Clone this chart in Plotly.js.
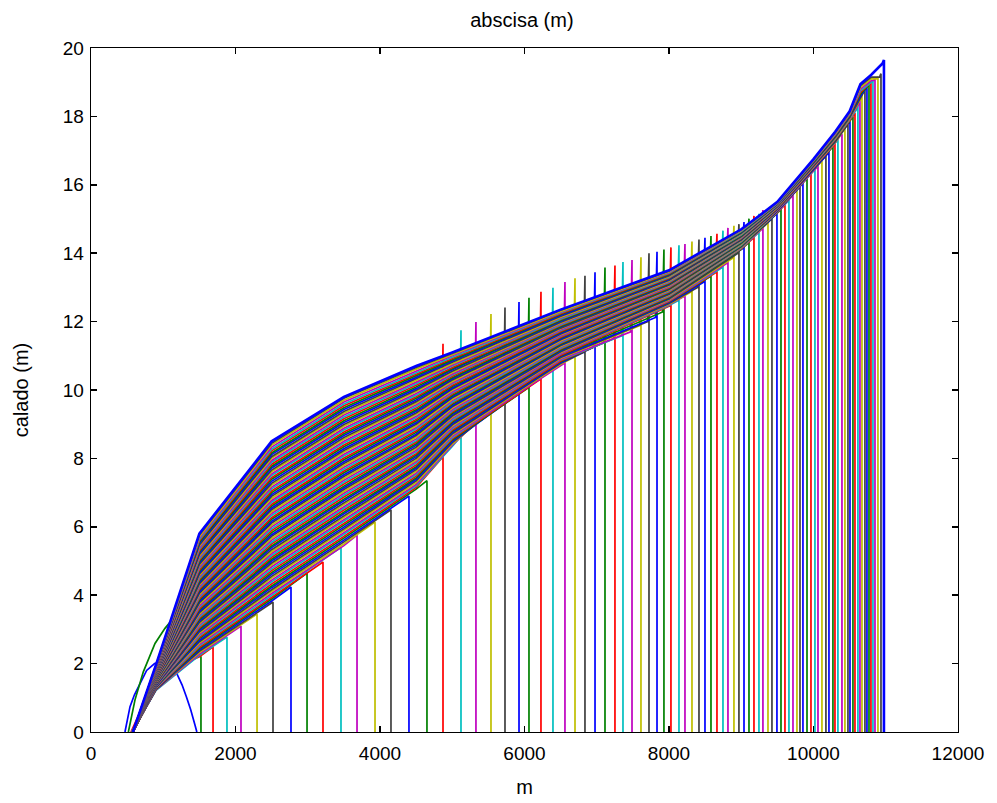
<!DOCTYPE html>
<html><head><meta charset="utf-8">
<script src="https://cdn.plot.ly/plotly-3.0.1.min.js"></script>
<style>html,body{margin:0;padding:0;background:#fff}#chart{width:997px;height:803px}</style>
</head><body><div id="chart"></div>
<script>
// first (small) profile, drawn in blue
const blobX = [470,540,600,680,770,880,930,1000,1100,1190,1260,1320,1380,1440,1465];
const blobY = [0,0.74,1.08,1.43,1.80,2.00,2.03,2.00,1.90,1.70,1.38,1.03,0.65,0.20,0];
// upstream part of the second (green) profile
const humpX = [517,609,724,886,1024,1117,1300];
const humpY = [0,0.94,1.76,2.59,3.03,3.27,2.95];
// upstream start of each profile (later ones start at 580 m)
const startX = [517,553,560,564,567,570,573,575,577,579];
// front position (m) of every profile
const fronts = [1522,1689,1882,2076,2298,2519,2768,2990,3211,3460,
3682,3931,4152,4401,4650,4872,5121,5328,5536,5730,
5924,6062,6228,6394,6560,6699,6837,6976,7114,7252,
7363,7488,7612,7723,7834,7930,8027,8138,8221,8318,
8415,8498,8581,8664,8747,8816,8899,8968,9038,9107,
9176,9245,9300,9370,9425,9494,9550,9605,9660,9716,
9771,9813,9854,9910,9965,10020,10062,10117,10172,10214,
10269,10297,10338,10394,10435,10477,10505,10546,10574,10615,
10643,10671,10712,10740,10768,10795,10823,10851,10892,10934,10975];
// depth at the front (top of the vertical drop)
const tips = [2.19,2.49,2.78,3.10,3.45,3.80,4.24,4.65,4.97,5.40,
5.76,6.14,6.50,6.90,7.35,11.35,11.75,11.99,12.22,12.41,
12.57,12.70,12.87,12.99,13.16,13.27,13.34,13.44,13.58,13.64,
13.74,13.80,13.88,14.00,14.04,14.11,14.17,14.23,14.27,14.34,
14.40,14.45,14.50,14.57,14.66,14.74,14.80,14.85,14.91,15.01,
15.09,15.15,15.26,15.32,15.38,15.48,15.58,15.68,15.78,15.88,
15.98,16.06,16.15,16.27,16.40,16.52,16.62,16.76,16.90,17.02,
17.15,17.22,17.33,17.48,17.60,17.75,17.85,18.00,18.10,18.35,
18.55,18.70,18.85,18.92,18.97,19.00,19.05,19.10,19.15,19.25,19.65];
// depth just before the front (last 76 profiles)
const prefront = [8.00,8.60,9.00,9.37,9.62,9.87,10.05,10.30,10.57,10.77,
10.95,11.10,11.25,11.38,11.50,11.58,11.70,11.88,12.00,12.12,
12.28,12.45,12.60,12.73,12.86,13.00,13.15,13.30,13.43,13.57,
13.70,13.85,13.99,14.14,14.28,14.42,14.57,14.69,14.85,14.97,
15.12,15.24,15.37,15.50,15.65,15.80,15.90,16.00,16.14,16.28,
16.40,16.50,16.65,16.80,16.90,17.07,17.15,17.27,17.45,17.58,
17.72,17.80,17.95,18.05,18.20,18.35,18.50,18.70,18.80,18.88,
18.95,19.00,19.05,19.10,19.15,19.55];
// depth at stations, for the profiles that already passed them (last ones)
const depth900 = [1.62,1.22,1.23,1.24,1.25,1.25,1.26,1.27,1.28,1.29,
1.30,1.31,1.31,1.32,1.33,1.34,1.35,1.36,1.36,1.37,
1.38,1.39,1.40,1.41,1.42,1.42,1.43,1.44,1.45,1.46,
1.47,1.47,1.48,1.49,1.50,1.51,1.52,1.53,1.53,1.54,
1.55,1.56,1.57,1.58,1.58,1.59,1.60,1.61,1.62,1.63,
1.64,1.64,1.65,1.66,1.67,1.68,1.69,1.69,1.70,1.71,
1.72,1.73,1.74,1.75,1.75,1.76,1.77,1.78,1.79,1.80,
1.80,1.81,1.82,1.83,1.84,1.85,1.86,1.86,1.87,1.88,
1.89,1.90,1.91,1.91,1.92,1.93,1.94,1.95,1.96,1.97];
const depth1500 = [2.20,2.24,2.28,2.32,2.36,2.40,2.44,2.48,2.52,2.56,
2.60,2.64,2.68,2.73,2.77,2.81,2.85,2.89,2.93,2.97,
3.01,3.05,3.09,3.13,3.17,3.21,3.25,3.29,3.33,3.37,
3.41,3.45,3.49,3.53,3.57,3.61,3.65,3.69,3.74,3.78,
3.82,3.86,3.90,3.94,3.98,4.02,4.06,4.10,4.14,4.18,
4.22,4.26,4.30,4.34,4.38,4.42,4.46,4.50,4.54,4.58,
4.62,4.66,4.70,4.75,4.79,4.83,4.87,4.91,4.95,4.99,
5.03,5.07,5.11,5.15,5.19,5.23,5.27,5.31,5.35,5.39,
5.43,5.47,5.51,5.55,5.59,5.63,5.67,5.71,5.76,5.80];
const depth2500 = [3.83,3.89,3.94,4.00,4.05,
4.11,4.16,4.22,4.27,4.33,4.39,4.44,4.50,4.55,4.61,
4.66,4.72,4.77,4.83,4.89,4.94,5.00,5.05,5.11,5.16,
5.22,5.27,5.33,5.39,5.44,5.50,5.55,5.61,5.66,5.72,
5.77,5.83,5.89,5.94,6.00,6.05,6.11,6.16,6.22,6.27,
6.33,6.39,6.44,6.50,6.55,6.61,6.66,6.72,6.77,6.83,
6.89,6.94,7.00,7.05,7.11,7.16,7.22,7.27,7.33,7.39,
7.44,7.50,7.55,7.61,7.66,7.72,7.77,7.83,7.89,7.94,
8.00,8.05,8.11,8.16,8.22,8.27,8.33,8.39,8.44,8.50];
const depth3500 = [5.45,
5.50,5.56,5.61,5.67,5.72,5.78,5.83,5.89,5.94,5.99,
6.05,6.10,6.16,6.21,6.27,6.32,6.38,6.43,6.49,6.54,
6.59,6.65,6.70,6.76,6.81,6.87,6.92,6.98,7.03,7.09,
7.14,7.19,7.25,7.30,7.36,7.41,7.47,7.52,7.58,7.63,
7.68,7.74,7.79,7.85,7.90,7.96,8.01,8.07,8.12,8.18,
8.23,8.28,8.34,8.39,8.45,8.50,8.56,8.61,8.67,8.72,
8.77,8.83,8.88,8.94,8.99,9.05,9.10,9.16,9.21,9.27,
9.32,9.37,9.43,9.48,9.54,9.59,9.65,9.70,9.76,9.80];
const depth4500 = [7.10,
7.15,7.20,7.24,7.29,7.34,7.39,7.43,7.48,7.53,7.57,
7.62,7.67,7.72,7.76,7.81,7.86,7.91,7.95,8.00,8.05,
8.10,8.14,8.19,8.24,8.29,8.33,8.38,8.43,8.48,8.52,
8.57,8.62,8.67,8.71,8.76,8.81,8.86,8.90,8.95,9.00,
9.04,9.09,9.14,9.19,9.23,9.28,9.33,9.38,9.42,9.47,
9.52,9.57,9.61,9.66,9.71,9.76,9.80,9.85,9.90,9.95,
9.99,10.04,10.09,10.14,10.18,10.23,10.28,10.33,10.37,10.42,
10.47,10.51,10.56,10.61,10.66,10.70];
const depth5000 = [8.35,8.39,8.42,8.46,8.50,
8.54,8.57,8.61,8.65,8.69,8.72,8.76,8.80,8.83,8.87,
8.91,8.95,8.98,9.02,9.06,9.10,9.13,9.17,9.21,9.24,
9.28,9.32,9.36,9.39,9.43,9.47,9.51,9.54,9.58,9.62,
9.65,9.69,9.73,9.77,9.80,9.84,9.88,9.92,9.95,9.99,
10.03,10.06,10.10,10.14,10.18,10.21,10.25,10.29,10.33,10.36,
10.40,10.44,10.47,10.51,10.55,10.59,10.62,10.66,10.70,10.73,
10.77,10.81,10.85,10.88,10.92,10.96,11.00,11.03,11.07,11.10];
const depth6500 = [10.73,10.75,10.78,10.80,10.83,10.85,10.88,
10.90,10.93,10.95,10.98,11.00,11.02,11.05,11.07,11.10,11.12,
11.15,11.17,11.20,11.22,11.25,11.27,11.30,11.32,11.34,11.37,
11.39,11.42,11.44,11.47,11.49,11.52,11.54,11.57,11.59,11.62,
11.64,11.66,11.69,11.71,11.74,11.76,11.79,11.81,11.84,11.86,
11.89,11.91,11.94,11.96,11.98,12.01,12.03,12.06,12.08,12.11,
12.13,12.16,12.18,12.21,12.23,12.26,12.28,12.30,12.33,12.35];
const depth8000 = [12.45,12.47,12.49,12.51,12.53,
12.55,12.57,12.59,12.61,12.62,12.64,12.66,12.68,12.70,12.72,
12.74,12.76,12.78,12.80,12.82,12.84,12.86,12.88,12.90,12.92,
12.94,12.96,12.97,12.99,13.01,13.03,13.05,13.07,13.09,13.11,
13.13,13.15,13.17,13.19,13.21,13.23,13.25,13.27,13.29,13.31,
13.32,13.34,13.36,13.38,13.40,13.42,13.44,13.46,13.48,13.50];
const depth9000 = [14.10,14.11,14.13,
14.14,14.16,14.17,14.19,14.20,14.21,14.23,14.24,14.26,14.27,
14.29,14.30,14.31,14.33,14.34,14.36,14.37,14.39,14.40,14.41,
14.43,14.44,14.46,14.47,14.49,14.50,14.51,14.53,14.54,14.56,
14.57,14.59,14.60,14.61,14.63,14.64,14.66,14.67,14.69,14.70];
const depth9500 = [15.18,15.19,15.20,15.21,15.22,
15.23,15.24,15.25,15.26,15.27,15.27,15.28,15.29,15.30,15.31,
15.32,15.33,15.34,15.35,15.36,15.37,15.38,15.39,15.40,15.41,
15.42,15.43,15.44,15.45,15.46,15.46,15.47,15.48,15.49,15.50];
const depth10000 = [16.42,16.43,16.45,16.46,16.48,16.49,16.50,16.52,16.53,16.55,16.56,16.57,16.59,16.60,16.62,16.63,16.64,16.66,16.67,16.69,16.70,16.71,16.72,16.74,16.75];
const depth10300 = [17.20,17.22,17.24,17.26,17.28,17.30,17.32,17.34,17.36,17.37,17.39,17.41,17.43,17.45,17.47,17.49,17.51,17.53,17.55];
const depth10500 = [17.85,17.87,17.90,17.92,17.94,17.97,17.99,18.01,18.04,18.06,18.08,18.10,18.13,18.15];
const depth10650 = [18.55,18.60,18.65,18.70,18.75,18.80,18.85,18.90,18.95];
const depth10800 = [19.05,19.10,19.15,19.22];

const xTicks = [0,2000,4000,6000,8000,10000,12000];
const yTicks = [0,2,4,6,8,10,12,14,16,18,20];

const stations = [[900,depth900],[1500,depth1500],[2500,depth2500],[3500,depth3500],[4500,depth4500],
  [5000,depth5000],[6500,depth6500],[8000,depth8000],[9000,depth9000],[9500,depth9500],
  [10000,depth10000],[10300,depth10300],[10500,depth10500],[10650,depth10650],[10800,depth10800]];
const cycle = ['rgb(0,0,255)','rgb(0,128,0)','rgb(255,0,0)','rgb(0,191,191)','rgb(191,0,191)','rgb(191,191,0)','rgb(64,64,64)'];
const N = fronts.length;
const traces = [{x: blobX, y: blobY, type:'scatter', mode:'lines', line:{color:cycle[0], width:1.7}, hoverinfo:'skip', showlegend:false}];
for (let j = 0; j < N; j++) {
  const xs = [], ys = [];
  if (j === 0) { for (let k = 0; k < humpX.length; k++) { xs.push(humpX[k]); ys.push(humpY[k]); } }
  else {
    xs.push(j < startX.length ? startX[j] : 580); ys.push(0);
    for (const [sx, arr] of stations) {
      const first = N - arr.length;
      if (j >= first) { xs.push(sx); ys.push(arr[j - first]); }
    }
  }
  const pf = N - prefront.length;
  if (j >= pf) { xs.push(fronts[j] - 20); ys.push(prefront[j - pf]); }
  xs.push(fronts[j]); ys.push(tips[j]);
  xs.push(fronts[j]); ys.push(0);
  traces.push({x: xs, y: ys, type:'scatter', mode:'lines',
    line:{color: cycle[(j + 1) % 7], width: j === N - 1 ? 2.6 : 1.7},
    hoverinfo:'skip', showlegend:false});
}
const fnt = {family:'"Liberation Sans", Arial, sans-serif', size:19, color:'#000'};
const lblFnt = {family:'"Liberation Sans", Arial, sans-serif', size:20, color:'#000'};
const axisCommon = {showgrid:false, zeroline:false, showline:true, linecolor:'#000', linewidth:1.3,
  mirror:'ticks', ticks:'inside', ticklen:6, tickwidth:1.5, tickcolor:'#000', tickfont:fnt};
const layout = {
  width:997, height:803, paper_bgcolor:'#fff', plot_bgcolor:'#fff', showlegend:false,
  margin:{l:91, r:39, t:48, b:71},
  title:{text:'abscisa (m)', font:lblFnt, x:0.5235, xanchor:'center', y:1-20/803, yanchor:'middle', yref:'container'},
  xaxis:Object.assign({}, axisCommon, {range:[0,12000], tickvals:xTicks, ticktext:xTicks.map(String),
    ticklabelstandoff:4, title:{text:'m', font:lblFnt, standoff:17}}),
  yaxis:Object.assign({}, axisCommon, {range:[0,20], tickvals:yTicks, ticktext:yTicks.map(String),
    ticklabelstandoff:2, title:{text:'calado (m)', font:lblFnt, standoff:28}})
};
Plotly.newPlot('chart', traces, layout, {staticPlot:true, displayModeBar:false});
</script></body></html>
